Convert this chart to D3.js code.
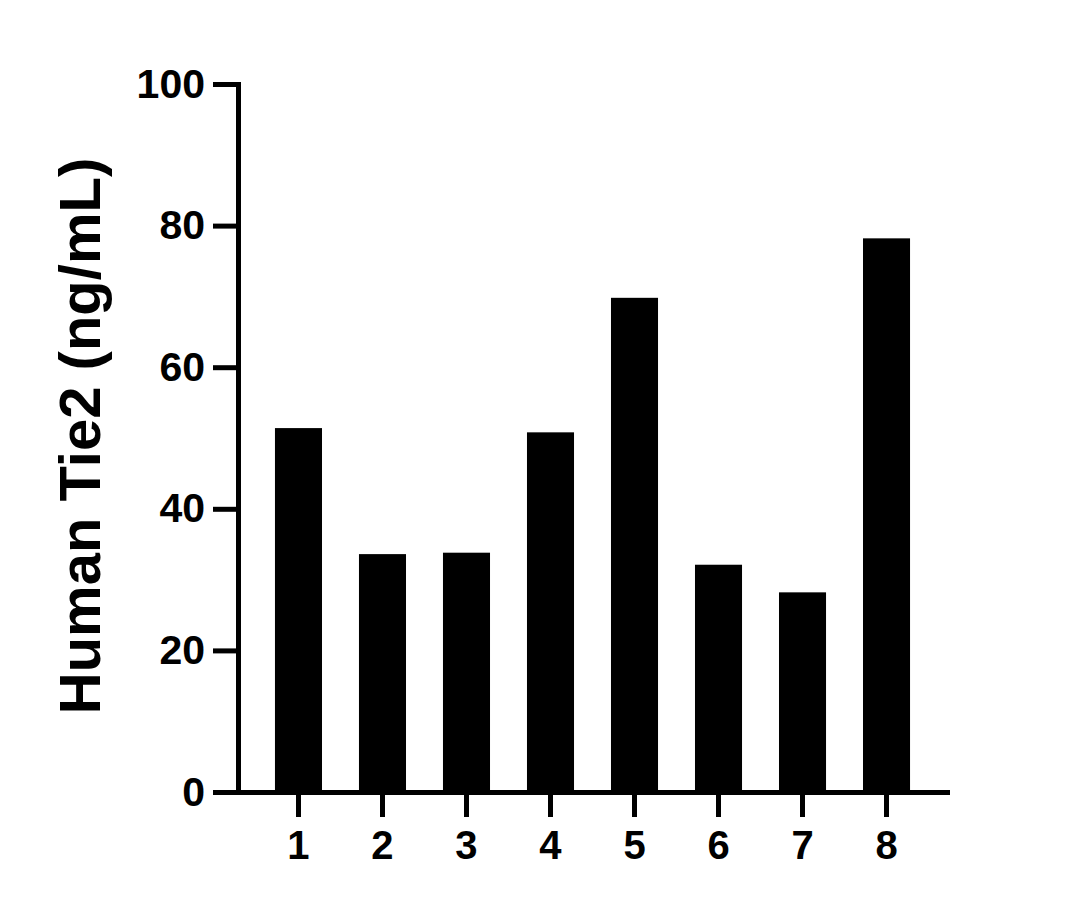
<!DOCTYPE html>
<html>
<head>
<meta charset="utf-8">
<script src="https://cdn.jsdelivr.net/npm/d3@7"></script>
<style>
  html, body { margin: 0; padding: 0; background: #fff; }
  svg { display: block; }
</style>
</head>
<body>
<svg id="chart" width="1080" height="909"></svg>
<script>
const categories = ["1", "2", "3", "4", "5", "6", "7", "8"];
const values = [51.4, 33.6, 33.8, 50.8, 69.8, 32.1, 28.2, 78.2];
const yTicks = [0, 20, 40, 60, 80, 100];
const yTitle = "Human Tie2 (ng/mL)";

const svg = d3.select("#chart");
const font = "'Liberation Sans', Arial, Helvetica, sans-serif";

const x = d3.scaleBand()
  .domain(categories)
  .range([238, 947])
  .paddingInner(0.44)
  .paddingOuter(0.44);

const y = d3.scaleLinear()
  .domain([0, 100])
  .range([792, 84]);

// bars
svg.append("g")
  .selectAll("rect")
  .data(values)
  .join("rect")
  .attr("x", (d, i) => x(categories[i]))
  .attr("width", x.bandwidth())
  .attr("y", d => y(d))
  .attr("height", d => y(0) - y(d))
  .attr("fill", "#000");

// y axis
const yAxis = svg.append("g")
  .attr("transform", "translate(238,0)")
  .call(d3.axisLeft(y).tickValues(yTicks).tickSize(25).tickSizeOuter(0).tickPadding(8));

// x axis
const xAxis = svg.append("g")
  .attr("transform", "translate(0,792)")
  .call(d3.axisBottom(x).tickSize(25).tickSizeOuter(0).tickPadding(14));

[yAxis, xAxis].forEach(g => {
  g.select(".domain").attr("stroke", "#000").attr("stroke-width", 5).attr("stroke-linecap", "square");
  g.selectAll(".tick line").attr("stroke", "#000").attr("stroke-width", 5);
  g.selectAll(".tick text")
    .attr("fill", "#000")
    .style("font-family", font)
    .style("font-weight", "bold");
});
yAxis.selectAll(".tick text").style("font-size", "41px");
xAxis.selectAll(".tick text").style("font-size", "40px");

// y title
svg.append("text")
  .attr("transform", "translate(100,436) rotate(-90)")
  .attr("text-anchor", "middle")
  .style("font-family", font)
  .style("font-weight", "bold")
  .style("font-size", "58px")
  .attr("fill", "#000")
  .text(yTitle);
</script>
</body>
</html>
